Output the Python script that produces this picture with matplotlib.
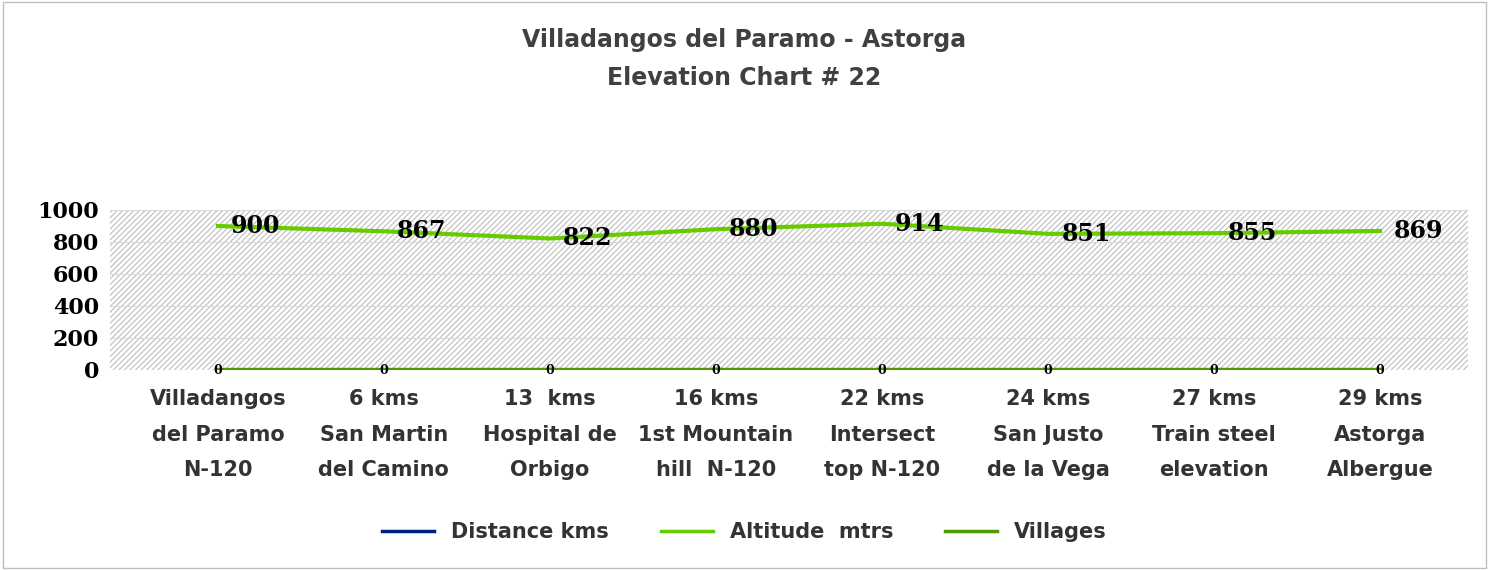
import matplotlib
matplotlib.use("Agg")
import matplotlib.pyplot as plt
import numpy as np

categories = ["Villadangos\ndel Paramo\nN-120", "6 kms\nSan Martin\ndel Camino", "13  kms\nHospital de\nOrbigo",
              "16 kms\n1st Mountain\nhill  N-120", "22 kms\nIntersect\ntop N-120", "24 kms\nSan Justo\nde la Vega",
              "27 kms\nTrain steel\nelevation", "29 kms\nAstorga\nAlbergue"]
altitude = [900, 867, 822, 880, 914, 851, 855, 869]
villages = [0, 0, 0, 0, 0, 0, 0, 0]
distance = [0, 0, 0, 0, 0, 0, 0, 0]
yticks = [0, 200, 400, 600, 800, 1000]

plt.rcParams["hatch.linewidth"] = 0.8
fig = plt.figure(figsize=(14.89, 5.70), dpi=100)
ax = fig.add_axes([110/1489, 1-370/570, (1468-110)/1489, 160/570])
x = np.arange(len(categories))
ax.set_xlim(-0.65, 7.53)
ax.set_ylim(0, 1000)
ax.add_patch(plt.Rectangle((0, 0), 1, 1, transform=ax.transAxes, facecolor="white",
                           edgecolor="#bdbdbd", hatch="//////", lw=0, zorder=0))
for y in yticks[1:]:
    ax.axhline(y, color="#d9d9d9", lw=0.8, zorder=0.5)
ax.plot(x, distance, color="#002080", lw=3, zorder=2)
ax.plot(x, altitude, color="#66cc00", lw=3, zorder=3)
ax.plot(x, villages, color="#4c9900", lw=3, zorder=3)
for xi, v in zip(x, altitude):
    ax.text(xi + 0.08, v, str(v), fontsize=17, fontweight="bold", family="DejaVu Serif",
            va="center", ha="left", zorder=4)
for xi, v in zip(x, villages):
    ax.text(xi, v, str(v), fontsize=9, fontweight="bold", family="DejaVu Serif",
            va="center", ha="center", zorder=4)
for s in ax.spines.values():
    s.set_visible(False)
ax.set_yticks(yticks)
ax.set_yticklabels([str(t) for t in yticks], fontsize=16, fontweight="bold", family="DejaVu Serif")
ax.set_xticks(x)
ax.set_xticklabels(categories, fontsize=15, fontweight="bold", color="#333333", linespacing=1.95)
ax.tick_params(length=0, pad=14)
ax.tick_params(axis="y", pad=8)

fig.text(0.5, 1-40/570, "Villadangos del Paramo - Astorga", ha="center", va="center",
         fontsize=17, fontweight="bold", color="#404040")
fig.text(0.5, 1-78/570, "Elevation Chart # 22", ha="center", va="center",
         fontsize=17, fontweight="bold", color="#404040")

from matplotlib.lines import Line2D
handles = [Line2D([], [], color="#002080", lw=2.5), Line2D([], [], color="#66cc00", lw=2.5),
           Line2D([], [], color="#4c9900", lw=2.5)]
fig.legend(handles, ["Distance kms", "Altitude  mtrs", "Villages"], loc="center",
           bbox_to_anchor=(0.5, 1-532/570), ncol=3, frameon=False,
           prop={"size": 15, "weight": "bold"}, handlelength=2.5, columnspacing=2.5)
for t in fig.legends[0].get_texts():
    t.set_color("#333333")
fig.patches.append(plt.Rectangle((0.002, 0.003), 0.996, 0.994, transform=fig.transFigure,
                                 fill=False, edgecolor="#bfbfbf", lw=1))
fig.savefig("out.png", dpi=100)
